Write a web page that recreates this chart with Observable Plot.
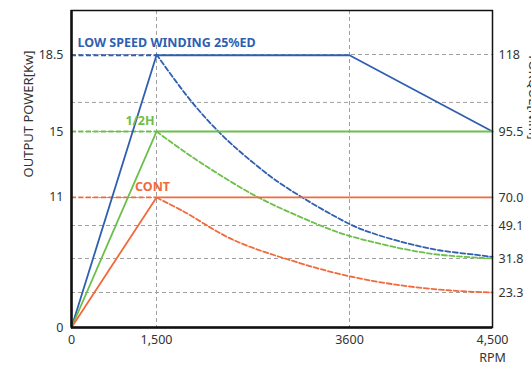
<!DOCTYPE html>
<html>
<head>
<meta charset="utf-8">
<script src="https://cdn.jsdelivr.net/npm/d3@7"></script>
<script src="https://cdn.jsdelivr.net/npm/@observablehq/plot@0.6"></script>
<style>
  html, body { margin: 0; padding: 0; background: #fff; }
</style>
</head>
<body>
<div id="chart"></div>
<script>
// ---- data ----
const rpmTicks = [0, 1500, 3600, 4500];
const rpmTickLabels = ["0", "1,500", "3600", "4,500"];

const powerTicks = [0, 11, 15, 18.5];               // kW (left axis)
const powerTickLabels = ["0", "11", "15", "18.5"];
const torqueTicks = [23.3, 31.8, 49.1, 70.0, 95.5, 118]; // N·m (right axis)
const torqueTickLabels = ["23.3", "31.8", "49.1", "70.0", "95.5", "118"];
const extraGrid = [104];                              // unlabeled gridline

const seriesNames = ["LOW SPEED WINDING 25%ED", "1/2H", "CONT"];

// output power (solid), kW
const blueRpm = [0, 1500, 3600, 4500];
const bluePower = [0, 18.5, 18.5, 15];
const greenRpm = [0, 1500, 4500];
const greenPower = [0, 15, 15];
const orangeRpm = [0, 1500, 4500];
const orangePower = [0, 11, 11];

// torque (dashed), N·m
const blueTqRpm = [1500, 1870, 2196, 2523, 2882, 3606, 3751, 3965, 4173, 4380, 4500];
const blueTorque = [118, 104.6, 94.7, 84.3, 74.6, 49.85, 44.9, 39.7, 36.0, 33.9, 32.6];
const greenTqRpm = [1500, 1816, 2164, 2599, 3067, 3502, 3751, 3965, 4173, 4500];
const greenTorque = [95.5, 87.4, 79.3, 70.2, 55.4, 45.1, 40.35, 36.4, 33.7, 31.8];
const orangeTqRpm = [1500, 1794, 2338, 3067, 3606, 3921, 4236, 4500];
const orangeTorque = [70, 59.6, 41.5, 30.6, 27.3, 25.1, 23.8, 23.3];

// ---- helpers ----
// power at base speed (1500 rpm) expressed as torque, so both axes share one scale
const toTq = p => p * 60000 / (2 * Math.PI * 1500);

const colors = {blue: "#2f5fb1", green: "#6cc04a", orange: "#f26a3b"};
const W = 531, H = 369;
const mL = 71, mR = 39, mT = 10, mB = 42;

const rows = (xs, ys) => xs.map((x, i) => ({x, y: ys[i]}));

const solid = [
  {d: rows(blueRpm, bluePower.map(toTq)), c: colors.blue},
  {d: rows(greenRpm, greenPower.map(toTq)), c: colors.green},
  {d: rows(orangeRpm, orangePower.map(toTq)), c: colors.orange}
];
const dashed = [
  {d: rows(blueTqRpm, blueTorque), c: colors.blue},
  {d: rows(greenTqRpm, greenTorque), c: colors.green},
  {d: rows(orangeTqRpm, orangeTorque), c: colors.orange}
];
const refLines = [
  {y: toTq(18.5), c: colors.blue},
  {y: toTq(15), c: colors.green},
  {y: toTq(11), c: colors.orange}
];

const chart = Plot.plot({
  width: W, height: H,
  marginLeft: mL, marginRight: mR, marginTop: mT, marginBottom: mB,
  style: {fontFamily: "'Noto Sans', sans-serif", fontSize: "12px", color: "#333", background: "#fff"},
  x: {type: "linear", domain: rpmTicks, range: [mL, 156, 349, W - mR]},
  y: {type: "linear",
      domain: [0, 23.3, 31.8, 49.1, 70, 95.5, 118, 131],
      range: [H - mB, 292, 258, 225, 197, 131, 54, mT]},
  marks: [
    // grid
    Plot.ruleY([...torqueTicks, ...extraGrid], {stroke: "#a0a0a0", strokeWidth: 1, strokeDasharray: "4,3"}),
    Plot.ruleX(rpmTicks.slice(1, 3), {stroke: "#a0a0a0", strokeWidth: 1, strokeDasharray: "4,3"}),
    // dashed reference lines at left
    ...refLines.map(r => Plot.ruleY([r.y], {x1: 0, x2: 1500, stroke: r.c, strokeWidth: 1.8, strokeDasharray: "5,2.5"})),
    // torque (dashed)
    ...dashed.map(s => Plot.line(s.d, {x: "x", y: "y", stroke: s.c, strokeWidth: 1.8, strokeDasharray: "5,2.5", curve: "catmull-rom"})),
    // power (solid)
    ...solid.map(s => Plot.line(s.d, {x: "x", y: "y", stroke: s.c, strokeWidth: 1.8})),
    // series labels
    Plot.text([seriesNames[0]], {x: 0, y: toTq(18.5), textAnchor: "start", dx: 6, dy: -12, fill: colors.blue, fontWeight: "bold", fontSize: 12.5}),
    Plot.text([seriesNames[1]], {x: 1500, y: toTq(15), textAnchor: "end", dx: -2, dy: -11, fill: colors.green, fontWeight: "bold", fontSize: 12.5}),
    Plot.text([seriesNames[2]], {x: 1500, y: toTq(11), textAnchor: "middle", dx: -4, dy: -10, fill: colors.orange, fontWeight: "bold", fontSize: 12.5}),
    // frame
    Plot.frame({stroke: "#111", strokeWidth: 1.5}),
    Plot.ruleX([0], {stroke: "#111", strokeWidth: 2.5}),
    Plot.ruleY([0], {stroke: "#111", strokeWidth: 2.5}),
    // axes
    Plot.axisX(rpmTicks, {tickSize: 0, tickPadding: 8, tickFormat: (d, i) => rpmTickLabels[i], fontSize: 12.5, label: null}),
    Plot.axisY(powerTicks.map(toTq), {anchor: "left", tickSize: 0, tickPadding: 8, tickFormat: (d, i) => powerTickLabels[i], fontSize: 12.5, label: null}),
    Plot.axisY(torqueTicks, {anchor: "right", tickSize: 0, tickPadding: 6, tickFormat: (d, i) => torqueTickLabels[i], fontSize: 12.5, label: null}),
    // titles
    Plot.text(["OUTPUT POWER[Kw]"], {frameAnchor: "left", textAnchor: "middle", rotate: -90, dx: -43, dy: -55, fontSize: 13, fill: "#333"}),
    Plot.text(["TORQUE[N.m]"], {frameAnchor: "top-right", textAnchor: "middle", rotate: 90, dx: 46, dy: 86, fontSize: 13, fill: "#333"}),
    Plot.text(["RPM"], {frameAnchor: "bottom-right", textAnchor: "middle", dy: 34, fontSize: 12.5, fill: "#333"})
  ]
});
document.getElementById("chart").appendChild(chart);
</script>
</body>
</html>
